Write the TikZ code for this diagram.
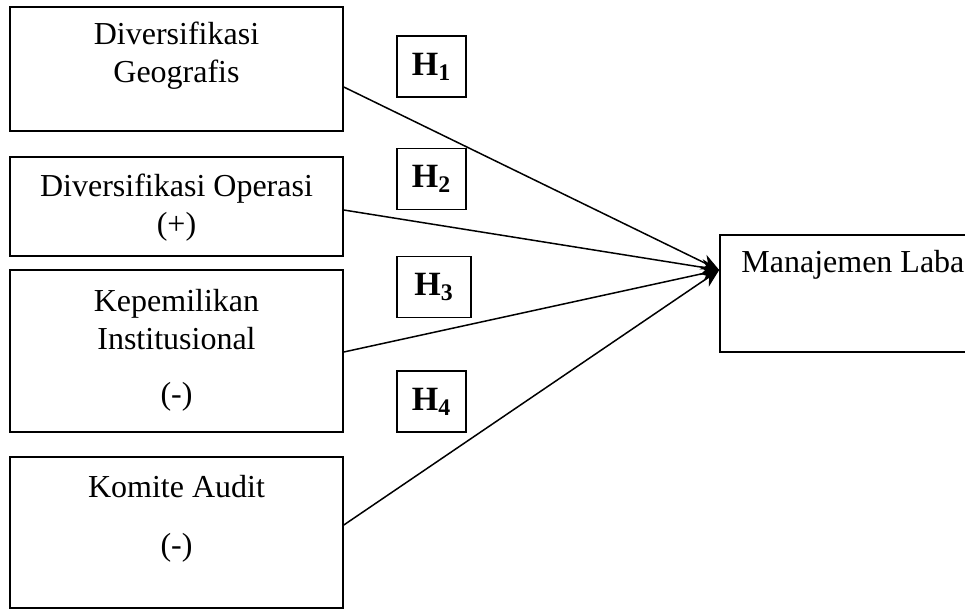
\documentclass[tikz,border=0pt]{standalone}
\usepackage{fontspec}
\setmainfont{Liberation Serif}
\usetikzlibrary{arrows.meta}

\begin{document}
\begin{tikzpicture}[x=0.5pt,y=-0.5pt,>={Stealth[length=9pt,width=8pt]},
    var box/.style={draw,line width=0.8pt,inner sep=0pt},
    hyp box/.style={draw,line width=0.8pt,inner sep=0pt,minimum width=34.5pt,minimum height=30.5pt,font=\fontsize{17}{19}\selectfont},
    var text/.style={align=center,inner sep=0pt,font=\fontsize{16}{19}\selectfont},
    link/.style={->,line width=0.75pt}]

    \useasboundingbox (0,0) rectangle (965,611);

    % variable boxes
    \node[var box,minimum width=166.5pt,minimum height=62pt] (geo) at (176.5,69){};
    \node[var box,minimum width=166.5pt,minimum height=49.5pt] (ops) at (176.5,206.5){};
    \node[var box,minimum width=166.5pt,minimum height=81pt] (inst) at (176.5,351){};
    \node[var box,minimum width=166.5pt,minimum height=75.5pt] (kom) at (176.5,532.5){};
    \node[var box,minimum width=140pt,minimum height=58.5pt] (laba) at (860,293.5){};

    % texts
    \node[var text] (geo t) at (176.5,56){Diversifikasi\\Geografis};
    \node[var text] (ops t) at (176.5,207.5){Diversifikasi Operasi\\(+)};
    \node[var text] (inst t) at (176.5,319.5){Kepemilikan\\Institusional};
    \node[var text] (inst s) at (176.5,397){(-)};
    \node[var text] (kom t) at (176.5,487){Komite Audit};
    \node[var text] (kom s) at (176.5,548){(-)};
    \node[var text,anchor=west] (laba t) at (741,265){Manajemen Laba};

    % hypotheses
    \node[hyp box] (h1) at (431.5,66.5){$\mathbf{H_1}$};
    \node[hyp box] (h2) at (431.5,179){$\mathbf{H_2}$};
    \node[hyp box,minimum width=37pt] (h3) at (434,287){$\mathbf{H_3}$};
    \node[hyp box] (h4) at (431.5,401.5){$\mathbf{H_4}$};

    \coordinate (tip) at ([yshift=11.75pt]laba.west);

    \draw[link] ([yshift=-9pt]geo.east) to (tip);
    \draw[link] ([yshift=-1.75pt]ops.east) to (tip);
    \draw[link] ([yshift=-0.5pt]inst.east) to (tip);
    \draw[link] ([yshift=3.75pt]kom.east) to (tip);

\end{tikzpicture}
\end{document}
